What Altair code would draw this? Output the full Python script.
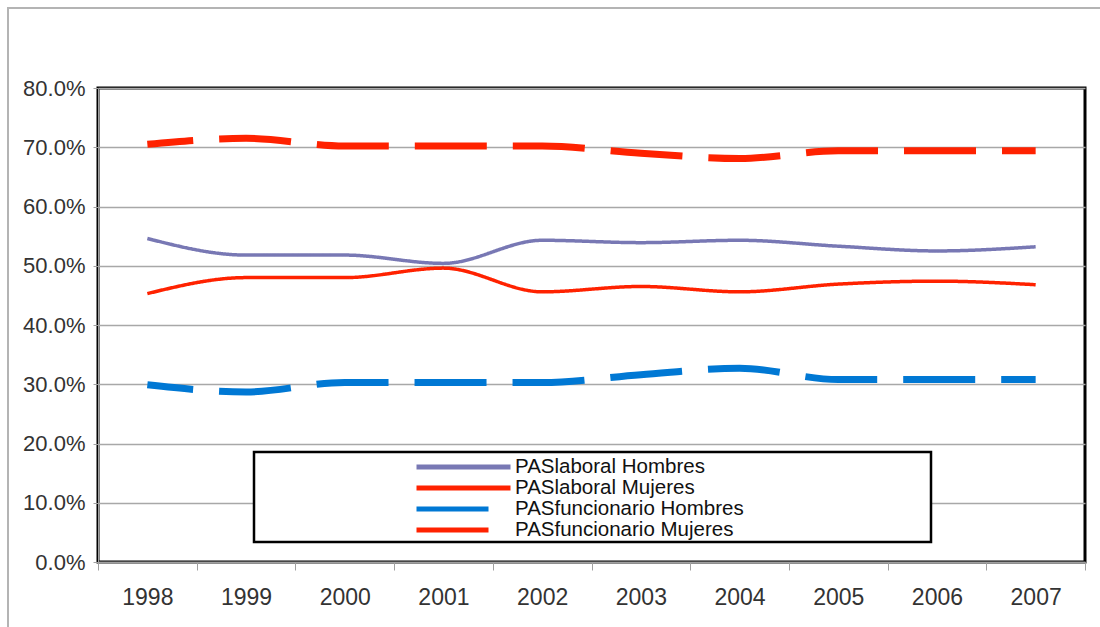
import altair as alt
import pandas as pd

years = ["1998", "1999", "2000", "2001", "2002", "2003", "2004", "2005", "2006", "2007"]
series_names = ["PASlaboral Hombres", "PASlaboral Mujeres",
                "PASfuncionario Hombres", "PASfuncionario Mujeres"]
laboral_hombres = [54.6, 51.8, 51.8, 50.4, 54.3, 53.9, 54.3, 53.3, 52.5, 53.2]
laboral_mujeres = [45.3, 48.0, 48.0, 49.6, 45.6, 46.5, 45.6, 46.9, 47.4, 46.8]
funcionario_hombres = [29.9, 28.7, 30.3, 30.3, 30.3, 31.6, 32.7, 30.8, 30.8, 30.8]
funcionario_mujeres = [70.5, 71.5, 70.2, 70.2, 70.2, 69.0, 68.1, 69.4, 69.4, 69.4]
y_ticks = [0, 10, 20, 30, 40, 50, 60, 70, 80]

colors = ["#7878B4", "#FF2200", "#0078D4", "#FF2200"]
dashes = [[1, 0], [1, 0], [72, 26], [72, 26]]

values = [laboral_hombres, laboral_mujeres, funcionario_hombres, funcionario_mujeres]
rows = []
for name, vals in zip(series_names, values):
    for yr, v in zip(years, vals):
        rows.append({"year": yr, "value": v, "serie": name})
df = pd.DataFrame(rows)

FONT = "Liberation Sans"
W, H = 987, 474

outer = alt.Chart(pd.DataFrame({"k": [0]})).mark_rect(
    filled=False, stroke="#B4B4B4", strokeWidth=2
).encode(x=alt.value(-90), x2=alt.value(1030), y=alt.value(-80), y2=alt.value(580))

base = alt.Chart(df).encode(
    x=alt.X("year:N", sort=years, bandPosition=0.5,
            scale=alt.Scale(type="band", paddingInner=0, paddingOuter=0),
            axis=alt.Axis(title=None, labelAngle=0, tickBand="extent", tickSize=8,
                          tickColor="#A0A0A0", domainColor="#A0A0A0", domainWidth=1.5,
                          labelFontSize=23, labelFont=FONT, labelColor="#333333",
                          labelPadding=16, grid=False)),
    y=alt.Y("value:Q", scale=alt.Scale(domain=[0, 80], nice=False),
            axis=alt.Axis(title=None, values=y_ticks, tickSize=5, tickColor="#A0A0A0",
                          domainColor="#A0A0A0", labelFontSize=22, labelFont=FONT,
                          labelColor="#333333", labelPadding=8,
                          labelExpr="format(datum.value, '.1f') + '%'",
                          gridColor="#A8A8A8", gridWidth=1.5)),
    color=alt.Color("serie:N", scale=alt.Scale(domain=series_names, range=colors),
                    legend=alt.Legend(title=None, orient="none", legendX=316, legendY=369,
                                      symbolType="stroke", symbolSize=8836,
                                      symbolStrokeWidth=5,
                                      clipHeight=20, rowPadding=0, padding=0,
                                      labelFontSize=20.5, labelFont=FONT, labelColor="#111111",
                                      labelOffset=2, symbolOffset=0, labelLimit=500)),
    strokeDash=alt.StrokeDash("serie:N", scale=alt.Scale(domain=series_names, range=dashes),
                              legend=alt.Legend(title=None)),
)

solid = base.transform_filter(
    alt.FieldOneOfPredicate(field="serie", oneOf=series_names[:2])
).mark_line(interpolate="monotone", strokeWidth=3.5)

dashed = base.transform_filter(
    alt.FieldOneOfPredicate(field="serie", oneOf=series_names[2:])
).mark_line(interpolate="monotone", strokeWidth=7, strokeDashOffset=26, strokeCap="butt")

legend_box = alt.Chart(pd.DataFrame({"k": [0]})).mark_rect(
    fill="white", stroke="black", strokeWidth=2.5
).encode(x=alt.value(156), x2=alt.value(833), y=alt.value(364), y2=alt.value(454))

chart = alt.layer(outer, solid, dashed, legend_box).properties(
    width=W, height=H,
    autosize=alt.AutoSizeParams(type="none"),
    padding={"left": 98, "top": 88, "right": 15, "bottom": 65},
    background="white",
).configure_view(stroke="black", strokeWidth=3)

chart.save("out.html", embed_options={"renderer": "svg", "actions": False})
